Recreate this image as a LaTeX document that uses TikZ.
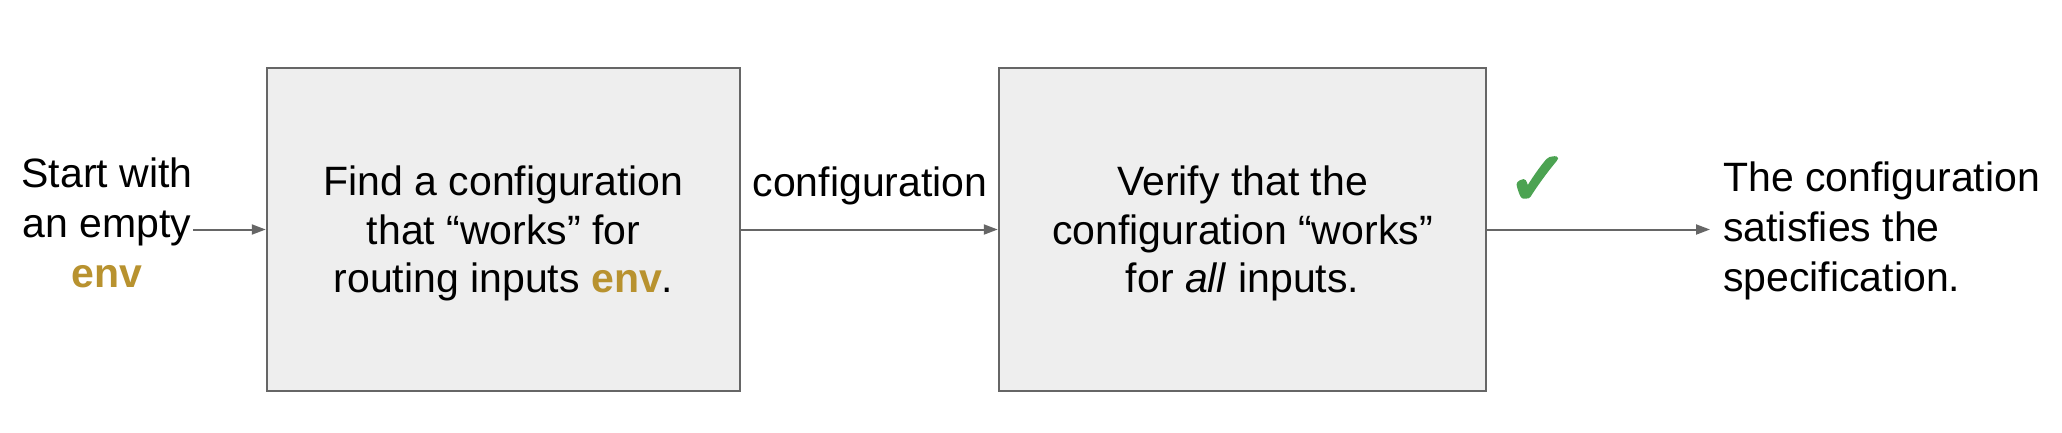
\documentclass[tikz,border=0pt]{standalone}
\usepackage{fontspec}
\setmainfont{Liberation Sans}
\newfontfamily\checkfont[FakeBold=4]{DejaVu Sans Bold}
\usetikzlibrary{arrows.meta}
\definecolor{boxfill}{HTML}{EEEEEE}
\definecolor{edgegray}{HTML}{666666}
\definecolor{envcol}{HTML}{B8922F}
\definecolor{okgreen}{HTML}{4CA352}
\newcommand{\envword}{\textcolor{envcol}{\textbf{env}}}
\tikzset{
  stagebox/.style={draw=edgegray, fill=boxfill, line width=2.5pt, minimum height=323pt, inner sep=0pt},
  boxtext/.style={inner sep=0pt, align=center, font=\fontsize{41}{48.5}\selectfont},
  sidetext/.style={inner sep=0pt, font=\fontsize{41}{50}\selectfont},
  flow/.style={draw=edgegray, line width=2pt, -{Triangle[length=14pt,width=10pt]}},
}
\begin{document}
\begin{tikzpicture}[x=1pt,y=-1pt]
\useasboundingbox[fill=white] (0,0) rectangle (2062,432);
\node[stagebox, minimum width=473pt] (b1) at (503.5,229.5) {};
\node[stagebox, minimum width=487pt] (b2) at (1242.5,229.5) {};
\node[boxtext] (t1) at (503.5,233.8) {Find a configuration\\that “works” for\\routing inputs \envword.};
\node[boxtext] (t2) at (1242.5,233.8) {Verify that the\\configuration “works”\\for \textit{all} inputs.};
\node[sidetext, align=center] (start) at (107,223.3) {Start with\\an empty\\\envword};
\node[sidetext, align=left, anchor=west] (done) at (1723,231.3) {The configuration\\satisfies the\\specification.};
\node[sidetext, anchor=base] (cfg) at (870,196) {configuration};
\node[inner sep=0pt, text=okgreen, font=\checkfont\fontsize{74}{74}\selectfont] (ok) at (1538,181) {✓};
\coordinate (s0) at (193,229.5);
\coordinate (e0) at (1710,229.5);
\draw[flow] (s0) -- (b1.west);
\draw[flow] (b1.east) -- (b2.west);
\draw[flow] (b2.east) -- (e0);
\end{tikzpicture}
\end{document}
